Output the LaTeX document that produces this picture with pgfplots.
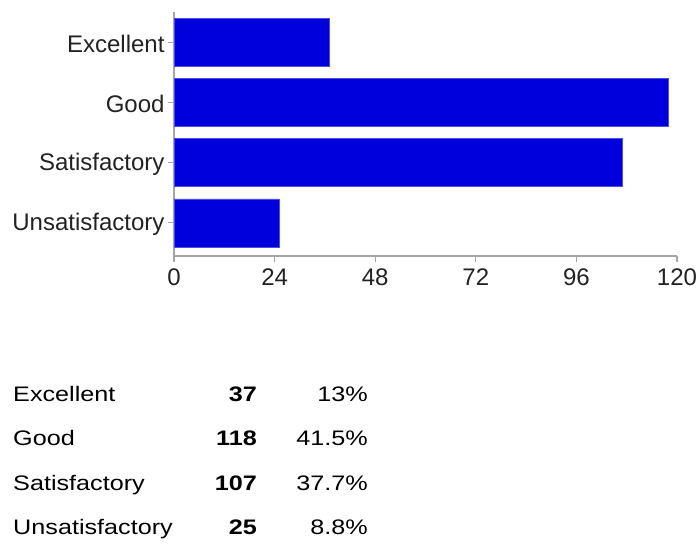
\documentclass[border=0pt]{standalone}
\usepackage{fontspec}
\setmainfont{Liberation Sans}
\newfontfamily\tablefont[FakeStretch=1.2]{Liberation Sans}
\usepackage{pgfplots}
\pgfplotsset{compat=1.18}
\definecolor{barblue}{RGB}{0,0,220}
\definecolor{axisgray}{RGB}{165,165,165}
\definecolor{labelgray}{RGB}{34,34,34}

\begin{document}
\begin{tikzpicture}
\path[use as bounding box] (0,0) rectangle (698pt,546pt);
\begin{axis}[
  at={(174pt,290pt)}, anchor=south west,
  scale only axis, width=503pt, height=244pt,
  xbar, bar width=48pt,
  xmin=0, xmax=120, ymin=-0.55, ymax=3.5,
  axis lines*=left,
  axis line style={axisgray, line width=1.2pt},
  xtick={0,24,...,120},
  ytick={0,1,2,3},
  yticklabels={Unsatisfactory,Satisfactory,Good,Excellent},
  tick align=outside, major tick length=6pt,
  tick style={axisgray, line width=1.2pt},
  ticklabel style={font=\fontsize{24}{28}\selectfont, text=labelgray},
  xticklabel style={yshift=-3pt},
  yticklabel style={yshift=-1.5pt},
  /pgf/number format/assume math mode=true,
]
% counts per rating
\addplot[fill=barblue, draw=barblue!70!white, line width=0.5pt]
  coordinates {(25,0) (107,1) (118,2) (37,3)};
\end{axis}

% summary table under the chart
\begin{scope}[font=\tablefont\fontsize{21}{25}\selectfont, inner sep=0pt]
\node[anchor=base west] at (13pt,144pt) {Excellent};
\node[anchor=base west] at (13pt,100pt) {Good};
\node[anchor=base west] at (13pt,56pt) {Satisfactory};
\node[anchor=base west] at (13pt,12pt) {Unsatisfactory};
\node[anchor=base east] at (257pt,144pt) {\bfseries 37};
\node[anchor=base east] at (257pt,100pt) {\bfseries 118};
\node[anchor=base east] at (257pt,56pt) {\bfseries 107};
\node[anchor=base east] at (257pt,12pt) {\bfseries 25};
\node[anchor=base east] at (368pt,144pt) {13\%};
\node[anchor=base east] at (368pt,100pt) {41.5\%};
\node[anchor=base east] at (368pt,56pt) {37.7\%};
\node[anchor=base east] at (368pt,12pt) {8.8\%};
\end{scope}
\end{tikzpicture}
\end{document}
